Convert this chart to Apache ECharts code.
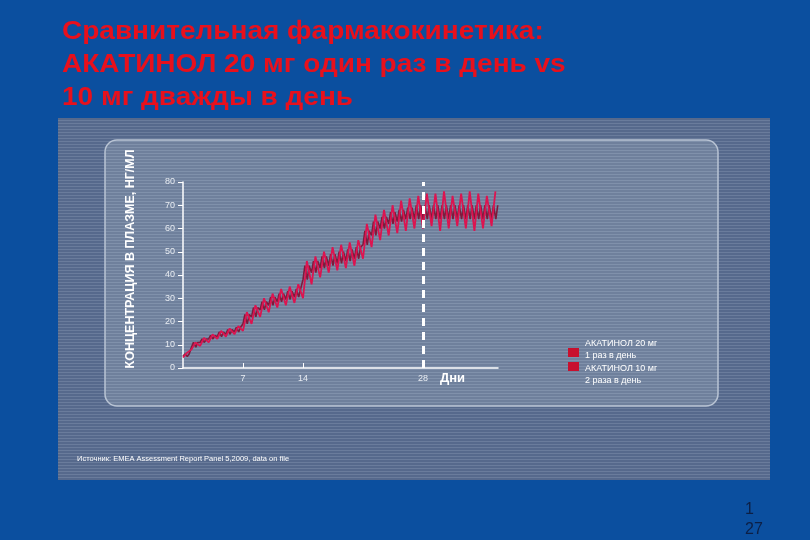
<!DOCTYPE html>
<html>
<head>
<meta charset="utf-8">
<script src="https://cdn.jsdelivr.net/npm/echarts@6/dist/echarts.min.js"></script>
<style>
  html, body { margin: 0; padding: 0; background: #0b4f9f; }
  #chart { width: 810px; height: 540px; }
</style>
</head>
<body>
<div id="chart"></div>
<script>
// дни приёма
var days = [0,1,2,3,4,5,6,7,8,9,10,11,12,13,14,15,16,17,18,19,20,21,22,23,24,25,26,27,28,29,30,31,32,33,34,35,36];

// АКАТИНОЛ 20 мг 1 раз в день: минимум и пик за сутки
var onceTrough = [4.5,8,9.5,11,12.5,13.5,14.5,16,19,22,24,26,27,28,30,36,39,41,42,43,44,47,52,55,57,58,59,60,60,61,59,60,61,60,59,60,61];
var oncePeak   = [6.5,11,13,14.5,16,17,18,24,27,30,32,34,35,36,46,48,50,52,53,54,55,62,66,68,70,72,73,74,75,75,76,74,75,76,75,74,76];

// АКАТИНОЛ 10 мг 2 раза в день: минимум и пик (одинаковы для двух доз в сутки)
var twiceTrough = [5,9,11,12.5,13.5,14.5,15.5,19,22,25,27,28.5,29.5,30.5,38,41,43,44,45,46,47,53,57,60,62,63,64,64,64,64,64,64,64,64,64,64,64];
var twicePeak   = [6,11,12.5,14,15.5,16.5,17.5,23,26,28.5,30.5,32,33,34,44,46,48,49,50,51,52,59,63,65,67,68,69,70,70,70,70,70,70,70,70,70,70];

var yTicks = [0,10,20,30,40,50,60,70,80];
var xTicks = [7,14,28];

var onceData = [];
var twiceData = [];
for (var i = 0; i < days.length; i++) {
    var d = days[i];
    onceData.push([d, onceTrough[i]]);
    onceData.push([d + 0.45, oncePeak[i]]);
    twiceData.push([d, twiceTrough[i]]);
    twiceData.push([d + 0.22, twicePeak[i]]);
    twiceData.push([d + 0.5, twiceTrough[i]]);
    twiceData.push([d + 0.72, twicePeak[i]]);
}

// полосатая текстура фона
function stripes(base, line) {
    var c = document.createElement('canvas');
    c.width = 4; c.height = 3;
    var ctx = c.getContext('2d');
    ctx.fillStyle = base;
    ctx.fillRect(0, 0, 4, 3);
    ctx.fillStyle = line;
    ctx.fillRect(0, 0, 4, 1);
    return { image: c, repeat: 'repeat' };
}

var chart = echarts.init(document.getElementById('chart'));

var option = {
    backgroundColor: '#0b4f9f',
    animation: false,
    graphic: [
        { type: 'rect', z: -10, shape: { x: 58, y: 118, width: 712, height: 362 },
          style: { fill: stripes('#56698c', '#6a7c9c') } },
        { type: 'rect', z: -9, shape: { x: 105, y: 140, width: 613, height: 266, r: 12 },
          style: { fill: stripes('#6f809c', '#8091ab'), stroke: '#b9c4d4', lineWidth: 1.5 } },
        { type: 'text', x: 62, y: 16, scaleX: 1.12,
          style: { text: 'Сравнительная фармакокинетика:\nАКАТИНОЛ 20 мг один раз в день vs\n10 мг дважды в день',
                   fill: '#e8101c', font: 'bold 25px "Liberation Sans", Arial, sans-serif', lineHeight: 33 } },
        { type: 'text', x: 131, y: 259, rotation: Math.PI / 2,
          style: { text: 'КОНЦЕНТРАЦИЯ В ПЛАЗМЕ, НГ/МЛ', fill: '#ffffff', align: 'center', verticalAlign: 'middle',
                   font: 'bold 12.5px "Liberation Sans", Arial, sans-serif' } },
        { type: 'text', x: 440, y: 378,
          style: { text: 'Дни', fill: '#ffffff', verticalAlign: 'middle',
                   font: 'bold 13px "Liberation Sans", Arial, sans-serif' } },
        { type: 'rect', shape: { x: 568, y: 348, width: 11, height: 9 }, style: { fill: '#c8102e' } },
        { type: 'rect', shape: { x: 568, y: 362, width: 11, height: 9 }, style: { fill: '#c8102e' } },
        { type: 'text', x: 585, y: 337,
          style: { text: 'АКАТИНОЛ 20 мг\n1 раз в день\nАКАТИНОЛ 10 мг\n2 раза в день', fill: '#ffffff',
                   font: '9px "Liberation Sans", Arial, sans-serif', lineHeight: 12.5 } },
        { type: 'text', x: 77, y: 455,
          style: { text: 'Источник: EMEA Assessment Report Panel 5,2009, data on file', fill: '#ffffff',
                   font: '7.5px "Liberation Sans", Arial, sans-serif' } },
        { type: 'text', x: 745, y: 500,
          style: { text: '1\n27', fill: '#0d1f45', font: '16px "Liberation Sans", Arial, sans-serif', lineHeight: 20 } }
    ],
    grid: { left: 183, top: 182, width: 315, height: 186 },
    xAxis: {
        type: 'value', min: 0, max: 36.75,
        splitLine: { show: false },
        axisLine: { lineStyle: { color: '#ffffff', width: 1.5 } },
        axisTick: { inside: true, length: 5, customValues: [7, 14], lineStyle: { color: '#ffffff' } },
        axisLabel: { customValues: xTicks, color: '#e8ecf2', fontSize: 9, margin: 6 }
    },
    yAxis: {
        type: 'value', min: 0, max: 80, interval: 10,
        splitLine: { show: false },
        axisLine: { show: true, lineStyle: { color: '#ffffff', width: 1.5 } },
        axisTick: { show: true, length: 5, lineStyle: { color: '#ffffff' } },
        axisLabel: { color: '#e8ecf2', fontSize: 9, margin: 8, customValues: yTicks }
    },
    series: [
        {
            name: 'АКАТИНОЛ 10 мг 2 раза в день',
            type: 'line', data: twiceData, symbol: 'none', z: 2,
            lineStyle: { color: '#7e1a3c', width: 1.6 }
        },
        {
            name: 'АКАТИНОЛ 20 мг 1 раз в день',
            type: 'line', data: onceData, symbol: 'none', z: 3,
            lineStyle: { color: '#dc1450', width: 1.8 },
            markLine: {
                silent: true, symbol: 'none', label: { show: false },
                lineStyle: { color: '#ffffff', type: [8, 6], width: 3 },
                data: [{ xAxis: 28 }]
            }
        }
    ]
};

chart.setOption(option);
</script>
</body>
</html>
